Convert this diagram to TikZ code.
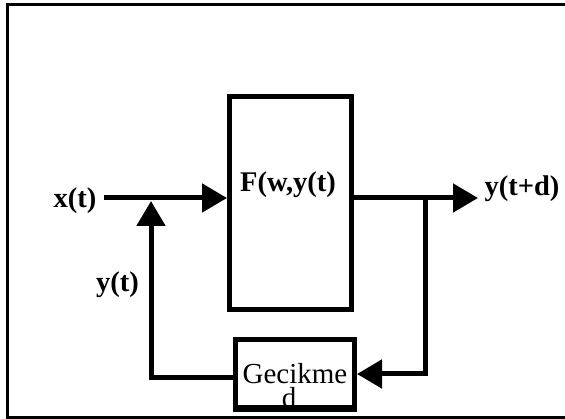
\documentclass[tikz,border=0pt]{standalone}
\usepackage{fontspec}
\setmainfont{Liberation Serif}
\usetikzlibrary{arrows.meta}
\begin{document}
\begin{tikzpicture}[x=1pt,y=-1pt,
  blk/.style={draw,line width=5pt,minimum width=#1,inner sep=0pt},
  arr/.style={line width=5pt,-{Triangle[length=25pt,width=28pt]}},
  lbl/.style={font=\fontsize{28.5}{30}\selectfont\bfseries,inner sep=0pt,anchor=base},
  txt/.style={font=\fontsize{29}{30}\selectfont,inner sep=0pt,anchor=base}]
\useasboundingbox (0,0) rectangle (565,419);
\draw[line width=2.2pt] (570,4.5) -- (7.5,4.5) -- (7.5,417.5) -- (570,417.5);
% blocks
\node[blk=122pt,minimum height=213.5pt] (F) at (290.5,203.25) {};
\node[blk=119pt,minimum height=68pt] (D) at (295,373.5) {};
% texts
\node[lbl] (Ft) at (288,192) {F(w,y(t)};
\node[lbl] (xt) at (75,208) {x(t)};
\node[lbl] (yt) at (117.5,292) {y(t)};
\node[lbl] (ytd) at (522,196) {y(t+d)};
\node[txt] (gk) at (295,384) {Gecikme};
\node[txt] (dd) at (289,407.5) {d};
\draw[line width=5pt] (D.south west) -- (D.south east);
% connectors
\coordinate (xin) at (104,198);
\coordinate (yout) at (478,198);
\coordinate (br) at (425,198);
\coordinate (brd) at (425,374);
\coordinate (fb) at (151,378);
\coordinate (jn) at (151,201);
\draw[arr] (xin) -- (xin -| F.west);
\draw[arr] (xin -| F.east) -- (yout);
\draw[arr,line join=miter] (br) -- (brd) -- (brd -| D.east);
\draw[arr,line join=miter] (fb -| D.west) -- (fb) -- (jn);
\end{tikzpicture}
\end{document}
